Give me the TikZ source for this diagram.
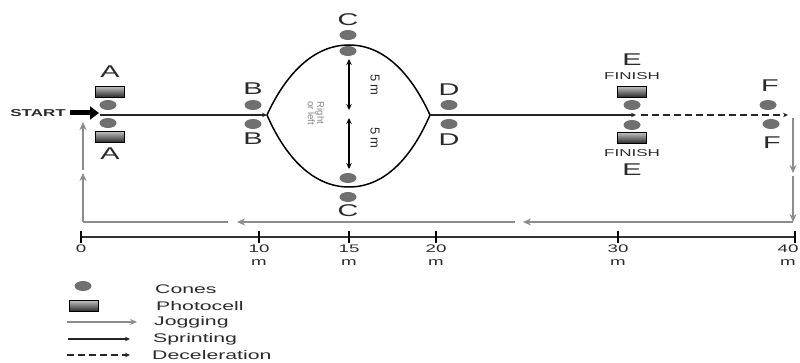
\documentclass[tikz,border=0pt]{standalone}
\usepackage{fontspec}
\setmainfont{Liberation Sans}[FakeStretch=1.7]
\newfontfamily\plainsf{Liberation Sans}
\usetikzlibrary{arrows.meta,shapes.geometric}
\definecolor{conegray}{HTML}{707070}
\definecolor{joggray}{HTML}{8C8C8C}
\definecolor{textgray}{HTML}{2A2A2A}
\begin{document}
\begin{tikzpicture}[x=1pt,y=-1pt,
  cone/.style={ellipse, fill=conegray, minimum width=17pt, minimum height=10pt, inner sep=0pt},
  photo/.style={rectangle, draw=black, line width=0.8pt, top color=gray!50, bottom color=black!85, minimum width=29pt, minimum height=11pt, inner sep=0pt},
  lbl/.style={font=\fontsize{17}{17}\selectfont, text=textgray, inner sep=0pt},
  fin/.style={font=\fontsize{10}{10}\selectfont, text=textgray, inner sep=0pt},
  axlbl/.style={font=\fontsize{11}{13}\selectfont, text=textgray, align=center, inner sep=0pt, anchor=north},
  leg/.style={font=\fontsize{12.5}{12.5}\selectfont, text=textgray, inner sep=0pt, anchor=west},
  sprint/.style={draw=black!85, line width=1.2pt, -{Stealth[length=5pt,width=4.5pt]}},
  decel/.style={sprint, dash pattern=on 7pt off 4pt},
  jog/.style={draw=joggray, line width=2.8pt, -{Stealth[length=8pt,width=7pt]}},
  track/.style={draw=black, line width=1.5pt},
  tick/.style={draw=black, line width=2pt},
  dim/.style={draw=black, line width=1.6pt, {Stealth[length=6pt,width=5.5pt]}-{Stealth[length=6pt,width=5.5pt]}}
]
\useasboundingbox (0,0) rectangle (800,363);
\clip (0,0) rectangle (800,363);

% ---- A (start gates)
\node[lbl] (lAt) at (110,72) {A};
\node[photo] (pAt) at (110,92) {};
\node[cone] (cAt) at (108,105) {};
\node[cone] (cAb) at (108,123) {};
\node[photo] (pAb) at (110,137) {};
\node[lbl] (lAb) at (110,154) {A};

% ---- START
\node[font=\bfseries\fontsize{10}{10}\selectfont, text=textgray, anchor=east, inner sep=0pt] (start) at (66,113) {START};
\coordinate (s0) at (70,113);
\coordinate (s1) at (99,113);
\draw[line width=5pt, -{Triangle[length=9pt,width=13pt]}] (s0) -- (s1);

% ---- B
\node[lbl] (lBt) at (253,89) {B};
\node[cone] (cBt) at (253,105) {};
\node[cone] (cBb) at (253,124) {};
\node[lbl] (lBb) at (253,139) {B};

% ---- C
\node[lbl] (lCt) at (348,20) {C};
\node[cone] (cCt1) at (348,35) {};
\node[cone] (cCt2) at (348,51) {};
\node[cone] (cCb1) at (348,178) {};
\node[cone] (cCb2) at (348,197) {};
\node[lbl] (lCb) at (348,211) {C};

% ---- D
\node[lbl] (lDt) at (449,90) {D};
\node[cone] (cDt) at (449,105) {};
\node[cone] (cDb) at (449,124) {};
\node[lbl] (lDb) at (449,140) {D};

% ---- E
\node[lbl] (lEt) at (632,60) {E};
\node[fin] (fEt) at (632,76) {FINISH};
\node[photo] (pEt) at (632,92) {};
\node[cone] (cEt) at (632,105) {};
\node[cone] (cEb) at (632,125) {};
\node[photo] (pEb) at (632,138) {};
\node[fin] (fEb) at (632,153) {FINISH};
\node[lbl] (lEb) at (632,170) {E};

% ---- F
\node[lbl] (lFt) at (770,86) {F};
\node[cone] (cFt) at (768,105) {};
\node[cone] (cFb) at (771,124) {};
\node[lbl] (lFb) at (772,143) {F};

% ---- sprint path
\coordinate (m0) at (100,115);
\coordinate (bv) at (267,115);
\coordinate (ct) at (349,45);
\coordinate (dv) at (430,115);
\coordinate (cb) at (349,187);
\coordinate (e0) at (636,115);
\coordinate (d0) at (641,115);
\coordinate (d1) at (788,115);
\draw[sprint] (m0) -- (bv);
\draw[track] (bv) .. controls (283,80) and (310,45) .. (ct)
  .. controls (388,45) and (414,80) .. (dv)
  .. controls (414,152) and (388,187) .. (cb)
  .. controls (310,187) and (283,152) .. (bv);
\draw[sprint] (dv) -- (e0);
\draw[decel] (d0) -- (d1);

% ---- 5 m dimensions
\coordinate (a1) at (349,59);
\coordinate (a2) at (349,110);
\coordinate (a3) at (349,118);
\coordinate (a4) at (349,169);
\draw[dim] (a1) -- (a2);
\draw[dim] (a3) -- (a4);
\node[font=\plainsf\fontsize{13}{13}\selectfont, text=textgray, rotate=-90, inner sep=0pt] (d5a) at (375,85) {5 m};
\node[font=\plainsf\fontsize{13}{13}\selectfont, text=textgray, rotate=-90, inner sep=0pt] (d5b) at (375,138) {5 m};
\node[font=\plainsf\fontsize{9.5}{9.5}\selectfont, text=gray, rotate=-90, align=center, inner sep=0pt] (rl) at (316,113) {Right\\or left};

% ---- jogging return path
\coordinate (j0) at (793,118);
\coordinate (j1) at (793,173);
\coordinate (j2) at (793,176);
\coordinate (j3) at (793,222);
\coordinate (j4) at (523,222);
\coordinate (j5) at (515,222);
\coordinate (j6) at (237,222);
\coordinate (j7) at (228,222);
\coordinate (j8) at (83,222);
\coordinate (j9) at (83,173);
\coordinate (j10) at (83,170);
\coordinate (j11) at (83,122);
\draw[jog] (j0) -- (j1);
\draw[jog] (j2) -- (j3);
\draw[jog] (j3) -- (j4);
\draw[jog] (j5) -- (j6);
\draw[jog, -] (j7) -- (j8);
\draw[jog] (j8) -- (j9);
\draw[jog] (j10) -- (j11);

% ---- distance axis
\coordinate (x0) at (81,237);
\coordinate (x40) at (795,237);
\draw[draw=black!80, line width=1.5pt] (x0) -- (x40);
\foreach \px/\lx/\nm/\txt in {81/81/t0/0, 259/259/t10/10\\m, 349/349/t15/15\\m, 436/436/t20/20\\m, 618/618/t30/30\\m, 795/788/t40/40\\m}{
  \draw[tick] (\px,231) -- (\px,243);
  \node[axlbl] (\nm) at (\lx,245) {\txt};
}

% ---- legend
\node[cone] (lgCone) at (83,286) {};
\node[photo] (lgPhoto) at (84,306) {};
\coordinate (lj0) at (67,322);
\coordinate (lj1) at (137,322);
\coordinate (ls0) at (68,339);
\coordinate (ls1) at (130,339);
\coordinate (ld0) at (67,355);
\coordinate (ld1) at (130,355);
\draw[jog, line width=2pt, -{Stealth[length=7pt,width=6pt]}] (lj0) -- (lj1);
\draw[sprint] (ls0) -- (ls1);
\draw[decel] (ld0) -- (ld1);
\node[leg] (tCones) at (155,289) {Cones};
\node[leg] (tPhoto) at (156,306) {Photocell};
\node[leg] (tJog) at (154,322) {Jogging};
\node[leg] (tSprint) at (153,339) {Sprinting};
\node[leg] (tDecel) at (152,355) {Deceleration};
\end{tikzpicture}
\end{document}
